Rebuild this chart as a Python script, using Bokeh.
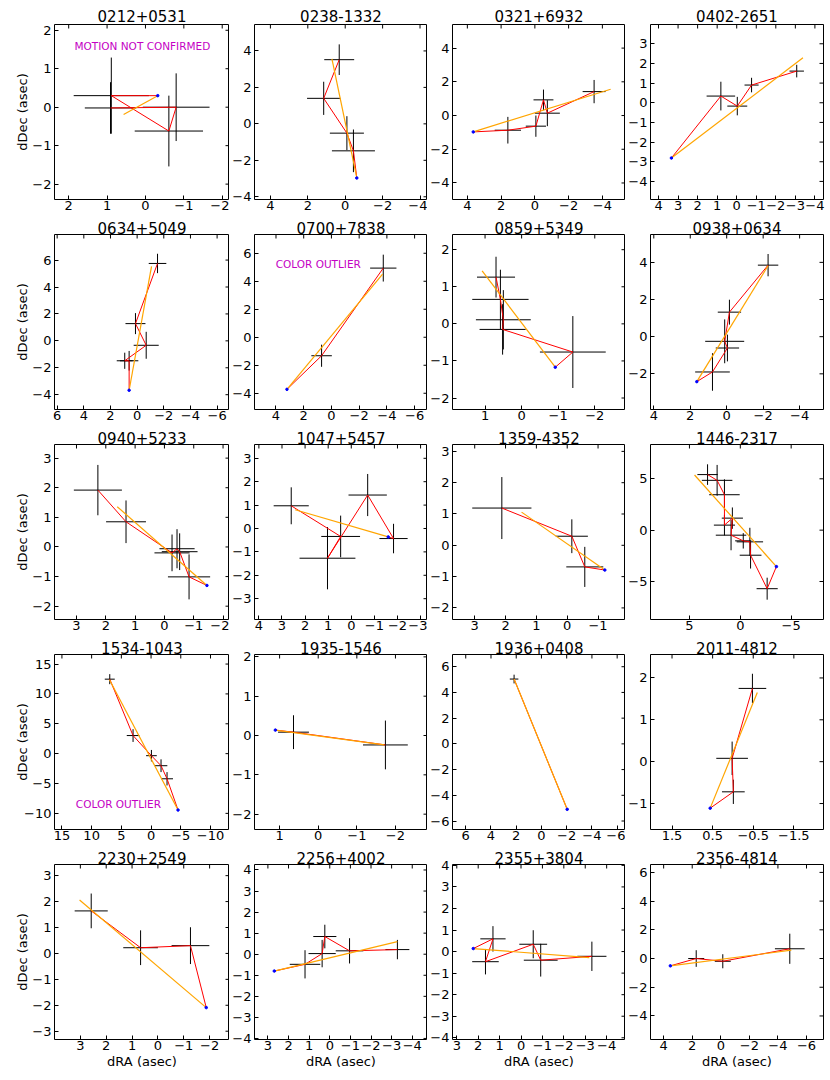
import numpy as np
from bokeh.plotting import figure
from bokeh.models import Range1d, FixedTicker, CustomJSTickFormatter, Label
from bokeh.layouts import gridplot
from bokeh.embed import file_html
from bokeh.resources import INLINE

# ---------------- data (dRA, dDec in arcsec) ----------------
names = ["0212+0531", "0238-1332", "0321+6932", "0402-2651",
         "0634+5049", "0700+7838", "0859+5349", "0938+0634",
         "0940+5233", "1047+5457", "1359-4352", "1446-2317",
         "1534-1043", "1935-1546", "1936+0408", "2011-4812",
         "2230+2549", "2256+4002", "2355+3804", "2356-4814"]

# epochs, in the order the red track joins them (track ends at the reference point)
ra = [[0.91, -0.80, -0.61, 0.89],
      [0.32, 1.15, -0.09, -0.44],
      [-3.51, -0.74, -0.51, -0.06, 1.60],
      [-3.07, -0.76, -0.03, 0.81],
      [-1.53, 0.125, -0.68, 0.93, 0.60],
      [-3.74, 0.71],
      [0.70, 0.58, 0.50, 0.52, -1.40],
      [-2.27, -0.15, 0.11, -0.04, 0.78],
      [2.27, 1.31, -0.26, -0.43, -0.52, -0.84],
      [2.60, 0.46, 1.03, -0.71, -1.83],
      [2.12, -0.15, -0.57],
      [3.22, 2.28, 1.56, 1.56, 0.78, 0.91, -0.29, -0.94, -1.01, -2.64],
      [6.95, 3.03, -0.06, -1.68, -2.69],
      [-1.74, 0.64],
      [2.17],
      [-0.48, 0.02, -0.01],
      [2.58, 0.67, -1.26],
      [-3.28, -0.96, 0.24, 0.37, 1.20],
      [-3.31, -0.92, -0.57, 1.66, 1.31],
      [-4.83, -0.14, 1.72]]
dec = [[-0.02, 0.0, -0.62, 0.30],
       [3.52, 1.40, -0.51, -1.48],
       [1.42, 0.14, 0.93, -0.63, -0.87],
       [1.61, 0.90, -0.17, 0.34],
       [5.75, 1.28, -0.33, -1.48, -1.48],
       [4.94, -1.32],
       [1.26, 0.66, 0.11, -0.15, -0.76],
       [3.85, 1.32, -0.25, -0.61, -1.90],
       [1.92, 0.85, -0.20, -0.06, -0.16, -1.01],
       [0.97, -0.34, -1.27, 1.43, -0.43],
       [1.19, 0.29, -0.69],
       [5.41, 4.85, 3.45, 0.49, 1.17, -0.49, -1.04, -1.14, -2.44, -5.70],
       [12.47, 3.03, -0.34, -2.02, -4.21],
       [-0.24, 0.085],
       [5.04],
       [1.75, 0.08, -0.72],
       [1.64, 0.22, 0.30],
       [0.22, 0.16, 0.84, 0.03, -0.48],
       [-0.22, -0.40, 0.34, -0.47, 0.59],
       [0.68, -0.19, 0.0]]
ra_err = [[0.67, 0.87, 0.89, 0.98],
          [0.80, 0.89, 0.91, 1.15],
          [0.68, 0.74, 0.59, 0.60, 0.78],
          [0.37, 0.36, 0.51, 0.73],
          [0.66, 0.75, 0.94, 0.60, 0.69],
          [0.95, 0.74],
          [0.52, 0.77, 0.75, 0.63, 0.90],
          [0.56, 0.64, 1.07, 0.64, 0.95],
          [0.82, 0.68, 0.60, 0.60, 0.61, 0.72],
          [0.76, 0.84, 1.21, 0.83, 0.61],
          [0.96, 0.52, 0.60],
          [1.0, 1.5, 1.5, 1.04, 1.04, 1.5, 0.8, 1.3, 1.07, 1.04],
          [0.84, 1.06, 0.90, 1.06, 1.0],
          [0.58, 0.40],
          [0.34],
          [0.34, 0.39, 0.28],
          [0.64, 0.67, 0.73],
          [0.58, 0.67, 0.56, 0.66, 0.74],
          [0.68, 0.79, 0.65, 0.62, 0.59],
          [1.04, 0.56, 0.56]]
dec_err = [[0.67, 0.88, 0.92, 0.99],
           [0.84, 0.91, 0.93, 1.17],
           [0.69, 0.77, 0.61, 0.63, 0.79],
           [0.32, 0.37, 0.47, 0.73],
           [0.72, 0.78, 1.0, 0.60, 0.73],
           [0.96, 0.79],
           [0.55, 0.80, 0.80, 0.68, 0.97],
           [0.60, 0.67, 1.18, 0.72, 1.01],
           [0.85, 0.72, 0.62, 0.66, 0.62, 0.76],
           [0.79, 0.89, 1.33, 0.90, 0.63],
           [0.99, 0.54, 0.64],
           [1.0, 1.5, 1.5, 1.0, 1.04, 1.47, 0.75, 1.37, 1.3, 1.07],
           [0.84, 1.07, 0.96, 1.07, 1.12],
           [0.62, 0.43],
           [0.34],
           [0.35, 0.40, 0.29],
           [0.67, 0.67, 0.71],
           [0.46, 0.60, 0.56, 0.65, 0.67],
           [0.68, 0.76, 0.65, 0.59, 0.59],
           [1.05, 0.49, 0.58]]

# reference (blue) position
ref_ra = [-0.32, -0.62, 3.65, 3.34, 0.60, 3.21, -0.92, 1.64, -1.45, -1.60,
          -1.22, -3.55, -4.54, 1.11, -2.04, 0.56, -1.87, 2.69, 2.23, 3.53]
ref_dec = [0.30, -2.97, -0.97, -2.81, -3.67, -3.72, -1.17, -2.42, -1.30, -0.36,
           -0.79, -3.55, -9.44, 0.137, -5.09, -1.11, -2.09, -0.80, 0.14, -0.51]

# far end of the fitted motion (orange) line
fit_ra = [0.57, 0.71, -4.49, -3.39, -1.08, -3.69, 1.08, -2.27, 1.61, 2.43,
          1.48, 4.50, 7.00, -1.71, 2.17, -0.60, 3.03, -3.28, -3.19, -4.94]
fit_dec = [-0.19, 3.56, 1.56, 2.29, 5.53, 4.51, 1.43, 3.82, 1.36, 0.80,
           1.06, 5.37, 12.36, -0.24, 5.04, 1.65, 2.06, 0.60, -0.28, 0.58]

# axis limits (x runs from east to west: left value > right value)
xlim = [(2.37, -2.19), (4.85, -4.40), (4.88, -5.37), (4.41, -4.44),
        (6.2, -6.93), (5.55, -6.93), (1.89, -2.84), (4.18, -5.31),
        (3.75, -2.22), (4.19, -3.30), (3.72, -1.89), (8.83, -8.18),
        (16.25, -13.2), (1.65, -2.83), (7.05, -6.66), (2.03, -2.23),
        (4.0, -2.77), (3.65, -4.74), (3.2, -4.88), (4.92, -7.19)]
ylim = [(-2.40, 2.15), (-4.15, 5.45), (-4.98, 5.40), (-4.92, 3.98),
        (-5.1, 7.9), (-5.16, 7.34), (-2.31, 2.41), (-3.92, 5.50),
        (-2.45, 3.46), (-3.89, 3.59), (-2.37, 3.22), (-8.70, 8.34),
        (-12.7, 16.6), (-2.39, 2.06), (-6.66, 6.95), (-1.62, 2.56),
        (-3.32, 3.43), (-4.05, 4.26), (-4.08, 4.04), (-5.64, 6.55)]

xticks = [[2, 1, 0, -1, -2], [4, 2, 0, -2, -4], [4, 2, 0, -2, -4],
          [4, 3, 2, 1, 0, -1, -2, -3, -4],
          [6, 4, 2, 0, -2, -4, -6], [4, 2, 0, -2, -4, -6], [1, 0, -1, -2],
          [4, 2, 0, -2, -4],
          [3, 2, 1, 0, -1, -2], [4, 3, 2, 1, 0, -1, -2, -3], [3, 2, 1, 0, -1],
          [5, 0, -5],
          [15, 10, 5, 0, -5, -10], [1, 0, -1, -2], [6, 4, 2, 0, -2, -4, -6],
          [1.5, 0.5, -0.5, -1.5],
          [3, 2, 1, 0, -1, -2], [3, 2, 1, 0, -1, -2, -3, -4],
          [3, 2, 1, 0, -1, -2, -3, -4], [4, 2, 0, -2, -4, -6]]
yticks = [[-2, -1, 0, 1, 2], [-4, -2, 0, 2, 4], [-4, -2, 0, 2, 4],
          [-4, -3, -2, -1, 0, 1, 2, 3, 4],
          [-4, -2, 0, 2, 4, 6], [-4, -2, 0, 2, 4, 6], [-2, -1, 0, 1, 2],
          [-2, 0, 2, 4],
          [-2, -1, 0, 1, 2, 3], [-3, -2, -1, 0, 1, 2, 3], [-2, -1, 0, 1, 2, 3],
          [-5, 0, 5],
          [-10, -5, 0, 5, 10, 15], [-2, -1, 0, 1, 2], [-6, -4, -2, 0, 2, 4, 6],
          [-1, 0, 1, 2],
          [-3, -2, -1, 0, 1, 2, 3], [-4, -3, -2, -1, 0, 1, 2, 3, 4],
          [-4, -3, -2, -1, 0, 1, 2, 3, 4], [-4, -2, 0, 2, 4, 6]]

note_panel = [0, 5, 12]
note_text = ["MOTION NOT CONFIRMED", "COLOR OUTLIER", "COLOR OUTLIER"]
note_x = [0.08, 0.95, 5.49]
note_y = [1.59, 5.23, -8.43]

# ---------------- drawing ----------------
FONT = "DejaVu Sans"
FRAME = 175
fmt = CustomJSTickFormatter(code="return tick < 0 ? '\\u2212' + Math.abs(tick).toString() : tick.toString();")


def style_axis(ax, ticks):
    ax.ticker = FixedTicker(ticks=ticks)
    ax.formatter = fmt
    ax.axis_line_color = None
    ax.major_tick_in = 4
    ax.major_tick_out = 0
    ax.minor_tick_in = 0
    ax.minor_tick_out = 0
    ax.major_tick_line_color = "black"
    ax.major_tick_line_width = 1
    ax.minor_tick_line_color = None
    ax.major_label_text_font = FONT
    ax.major_label_text_font_size = "13px"
    ax.major_label_text_color = "black"
    ax.major_label_standoff = 3


figs = []
for i in range(20):
    r, c = divmod(i, 4)
    left = 54 if c == 0 else 23
    right = 5 if c == 3 else 0
    top = 24 if r == 0 else 19
    bottom = 39 if r == 4 else 16
    p = figure(width=left + FRAME + right, height=top + FRAME + bottom,
               x_range=Range1d(*xlim[i]), y_range=Range1d(*ylim[i]),
               output_backend="svg", toolbar_location=None,
               min_border_left=left, min_border_right=right,
               min_border_top=top, min_border_bottom=bottom,
               title=names[i])
    p.title.text_font = FONT
    p.title.text_font_size = "15px"
    p.title.text_font_style = "normal"
    p.title.text_color = "black"
    p.title.align = "center"
    p.title.standoff = 6 if r == 0 else 2
    p.title.offset = 0
    p.outline_line_color = "black"
    p.outline_line_width = 1
    p.grid.visible = False
    p.background_fill_color = "white"
    p.border_fill_color = "white"

    xax = p.below[0]
    yax = p.left[0]
    style_axis(xax, xticks[i])
    style_axis(yax, yticks[i])
    xax.major_label_standoff = 1

    # inward tick marks on the top and right edges (clipped to the frame)
    n_x = len(xticks[i])
    n_y = len(yticks[i])
    p.scatter(xticks[i], [ylim[i][1]] * n_x, marker="dash", angle=np.pi / 2,
              size=8, line_color="black", line_width=1)
    p.scatter([xlim[i][1]] * n_y, yticks[i], marker="dash",
              size=8, line_color="black", line_width=1)

    if c == 0:
        widest = max(len(str(abs(t))) for t in yticks[i])
        yax.axis_label = "dDec (asec)"
        yax.axis_label_text_font = FONT
        yax.axis_label_text_font_size = "13px"
        yax.axis_label_text_font_style = "normal"
        yax.axis_label_text_color = "black"
        yax.axis_label_standoff = -1 if widest <= 1 else -9
    if r == 4:
        xax.axis_label = "dRA (asec)"
        xax.axis_label_text_font = FONT
        xax.axis_label_text_font_size = "13px"
        xax.axis_label_text_font_style = "normal"
        xax.axis_label_text_color = "black"
        xax.axis_label_standoff = 1

    x = np.array(ra[i], dtype=float)
    y = np.array(dec[i], dtype=float)
    ex = np.array(ra_err[i], dtype=float)
    ey = np.array(dec_err[i], dtype=float)
    p.segment(x - ex, y, x + ex, y, line_color="black", line_width=1)
    p.segment(x, y - ey, x, y + ey, line_color="black", line_width=1)
    p.line(list(ra[i]) + [ref_ra[i]], list(dec[i]) + [ref_dec[i]],
           line_color="red", line_width=1)
    p.line([fit_ra[i], ref_ra[i]], [fit_dec[i], ref_dec[i]],
           line_color="orange", line_width=1.2)
    p.scatter([ref_ra[i]], [ref_dec[i]], size=2.5, color="blue")

    for k, pi in enumerate(note_panel):
        if pi == i:
            p.add_layout(Label(x=note_x[k], y=note_y[k], text=note_text[k],
                               text_align="center", text_baseline="middle",
                               text_font=FONT, text_font_size="10.5px",
                               text_color="#c400c4"))
    figs.append(p)

grid = gridplot([figs[j:j + 4] for j in range(0, 20, 4)], toolbar_location=None)
open("out.html", "w").write(file_html(grid, INLINE))
